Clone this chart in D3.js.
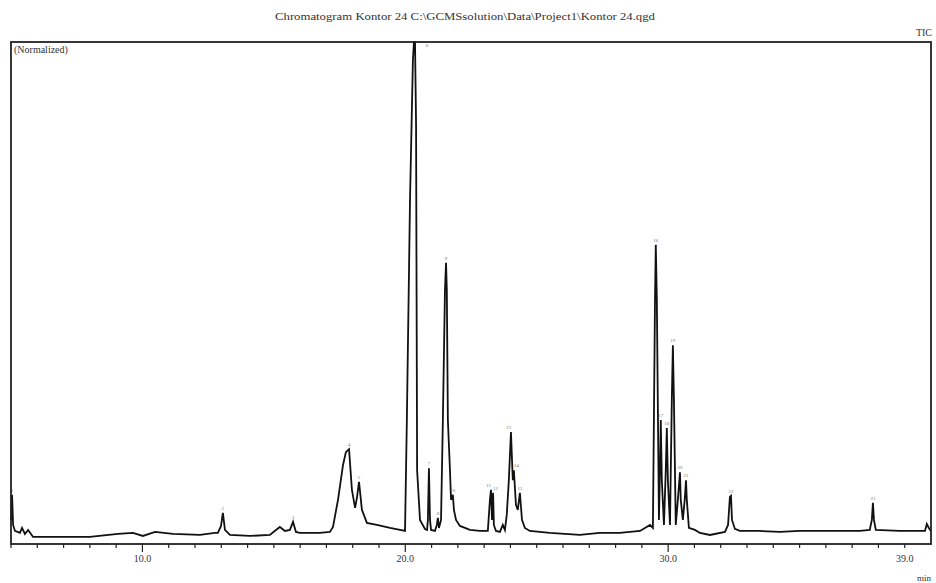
<!DOCTYPE html>
<html>
<head>
<meta charset="utf-8">
<script src="https://cdn.jsdelivr.net/npm/d3@7"></script>
<style>
    body { margin:0; background:#fff; }
    svg text { font-family:"Liberation Serif", "DejaVu Serif", serif; }
</style>
</head>
<body>
<svg id="chart" width="936" height="583"></svg>
<script>
// retention time (min) and normalized intensity
const retentionTimes = [
    5.00, 5.04, 5.08, 5.15, 5.34, 5.42, 5.53, 5.65, 5.76, 5.84,
    6.86, 8.00, 9.07, 9.64, 10.02, 10.48, 11.16, 12.19, 12.76, 12.87,
    12.99, 13.06, 13.14, 13.33, 14.09, 14.85, 15.08, 15.23, 15.42, 15.61,
    15.73, 15.84, 15.99, 16.75, 17.13, 17.25, 17.44, 17.63, 17.74, 17.86,
    17.97, 18.09, 18.16, 18.24, 18.35, 18.54, 18.92, 19.42, 19.80, 19.99,
    20.06, 20.18, 20.29, 20.33, 20.37, 20.41, 20.45, 20.56, 20.75, 20.83,
    20.86, 20.90, 20.94, 20.98, 21.13, 21.20, 21.24, 21.28, 21.36, 21.43,
    21.51, 21.55, 21.58, 21.62, 21.70, 21.74, 21.81, 21.85, 21.93, 22.08,
    22.46, 22.84, 23.14, 23.22, 23.26, 23.30, 23.34, 23.37, 23.45, 23.60,
    23.71, 23.79, 23.86, 23.94, 24.02, 24.09, 24.13, 24.21, 24.28, 24.36,
    24.44, 24.55, 24.74, 25.50, 26.64, 27.40, 28.16, 28.93, 29.31, 29.42,
    29.50, 29.53, 29.57, 29.65, 29.69, 29.72, 29.76, 29.84, 29.91, 29.95,
    29.99, 30.07, 30.14, 30.18, 30.22, 30.29, 30.37, 30.45, 30.48, 30.56,
    30.63, 30.68, 30.71, 30.79, 31.02, 31.21, 31.59, 32.16, 32.28, 32.35,
    32.39, 32.43, 32.54, 32.73, 33.49, 34.25, 35.01, 36.15, 37.29, 37.67,
    37.75, 37.79, 37.83, 37.90, 38.81, 39.77, 39.84, 39.92, 40.00
];
const intensities = [
    4.8, 9.8, 3.8, 2.6, 2.2, 3.2, 2.0, 2.8, 2.0, 1.4,
    1.4, 1.4, 2.0, 2.2, 1.6, 2.4, 2.0, 1.8, 2.2, 2.2,
    3.6, 6.2, 2.8, 1.8, 1.6, 1.8, 2.8, 3.4, 2.6, 2.8,
    4.4, 2.4, 2.2, 2.2, 2.4, 3.4, 8.8, 15.7, 18.3, 18.9,
    10.8, 7.2, 9.2, 12.4, 6.8, 4.2, 3.8, 3.2, 2.8, 2.6,
    24.7, 68.5, 96.4, 100, 100, 83.5, 14.7, 4.8, 3.0, 2.8,
    4.8, 15.1, 4.8, 2.8, 2.6, 3.8, 5.2, 3.2, 4.8, 24.7,
    50.6, 56.0, 50.6, 24.7, 14.7, 8.8, 9.8, 6.8, 4.8, 3.6,
    2.8, 2.6, 2.6, 8.8, 10.8, 4.8, 10.2, 3.8, 2.6, 2.4,
    3.8, 2.8, 5.8, 12.7, 22.3, 12.7, 14.7, 7.8, 6.8, 10.2,
    4.8, 3.2, 2.6, 2.2, 1.8, 2.2, 2.2, 2.6, 3.8, 3.2,
    48.6, 59.6, 48.6, 4.8, 14.7, 24.7, 12.7, 3.8, 14.7, 23.1,
    12.7, 3.8, 28.7, 39.6, 28.7, 3.8, 8.8, 14.3, 8.8, 4.8,
    8.8, 12.7, 8.8, 3.2, 2.8, 2.2, 1.8, 2.4, 3.8, 9.4,
    9.6, 4.8, 3.0, 2.6, 2.6, 2.4, 2.6, 2.6, 2.6, 2.8,
    4.8, 8.2, 4.8, 2.8, 2.6, 2.6, 4.0, 3.2, 2.6
];

// labelled peaks
const peakNumbers = [1, 2, 3, 4, 5, 6, 7, 8, 9, 10, 11, 12, 13, 14, 15, 16, 17, 18, 19, 20, 21, 22, 23];
const peakTimes = [5.04, 13.06, 15.73, 17.86, 18.24, 20.33, 20.90, 21.24, 21.55, 21.81, 23.26, 23.34,
                   24.02, 24.13, 24.36, 29.53, 29.72, 29.95, 30.18, 30.45, 30.68, 32.39, 37.79];
const peakHeights = [9.8, 6.2, 4.4, 18.9, 12.4, 100, 15.1, 5.2, 56.0, 9.8, 10.8, 10.2,
                     22.3, 14.7, 10.2, 59.6, 24.7, 23.1, 39.6, 14.3, 12.7, 9.6, 8.2];

// axis
const minorTicks = d3.range(5, 40, 1);
const majorTicks = [10, 20, 30, 39];
const tickLabels = ["10.0", "20.0", "30.0", "39.0"];

const titleText = "Chromatogram Kontor 24 C:\\GCMSsolution\\Data\\Project1\\Kontor 24.qgd";

const COLOURS = { INK:"#111", FRAME:"#222", TEXT:"#333", LABEL:"#777" };

const width = 936;
const height = 583;
const margin = { left:11, right:5, top:42, bottom:39 };
const contentsWidth = width - margin.left - margin.right;
const contentsHeight = height - margin.top - margin.bottom;

const x = d3.scaleLinear().domain([5, 40]).range([0, contentsWidth]);
const y = d3.scaleLinear().domain([0, 100]).range([contentsHeight, 0]);

const svg = d3.select("#chart");

//title
svg.append("text")
    .attr("x", 465)
    .attr("y", 20)
    .attr("text-anchor", "middle")
    .attr("font-size", 11)
    .attr("fill", COLOURS.TEXT)
    .attr("textLength", 380)
    .attr("lengthAdjust", "spacingAndGlyphs")
    .text(titleText);

svg.append("text")
    .attr("x", 932)
    .attr("y", 36)
    .attr("text-anchor", "end")
    .attr("font-size", 10)
    .attr("fill", COLOURS.TEXT)
    .text("TIC");

const contentsG = svg.append("g")
    .attr("transform", `translate(${margin.left}, ${margin.top})`);

contentsG.append("text")
    .attr("x", 3)
    .attr("y", 11)
    .attr("font-size", 10)
    .attr("fill", COLOURS.TEXT)
    .text("(Normalized)");

//trace
const line = d3.line()
    .x((d, i) => x(retentionTimes[i]))
    .y(d => y(d));

contentsG.append("path")
    .datum(intensities)
    .attr("fill", "none")
    .attr("stroke", COLOURS.INK)
    .attr("stroke-width", 1.8)
    .attr("stroke-linejoin", "miter")
    .attr("d", line);

//peak labels - push apart labels of peaks that sit right next to each other
const labelAnchor = (i) => {
    if (i > 0 && peakTimes[i] - peakTimes[i - 1] < 0.12) return "start";
    if (i < peakTimes.length - 1 && peakTimes[i + 1] - peakTimes[i] < 0.12) return "end";
    return "middle";
};

contentsG.selectAll("text.peak-label")
    .data(peakNumbers)
    .enter()
    .append("text")
        .attr("class", "peak-label")
        .attr("x", (d, i) => peakHeights[i] >= 100 ? x(peakTimes[i]) + 13 : x(peakTimes[i]))
        .attr("y", (d, i) => peakHeights[i] >= 100 ? y(peakHeights[i]) + 5 : y(peakHeights[i]) - 3)
        .attr("text-anchor", (d, i) => labelAnchor(i))
        .attr("font-size", 5)
        .attr("fill", COLOURS.LABEL)
        .text(d => d);

//frame
contentsG.append("rect")
    .attr("width", contentsWidth)
    .attr("height", contentsHeight)
    .attr("fill", "none")
    .attr("stroke", COLOURS.FRAME)
    .attr("stroke-width", 1.8);

//x axis ticks
const axisG = contentsG.append("g")
    .attr("transform", `translate(0, ${contentsHeight})`);

axisG.selectAll("line.minor")
    .data(minorTicks)
    .enter()
    .append("line")
        .attr("class", "minor")
        .attr("x1", d => x(d))
        .attr("x2", d => x(d))
        .attr("y1", 0)
        .attr("y2", d => (d % 10 === 0 ? 8 : 4))
        .attr("stroke", COLOURS.FRAME)
        .attr("stroke-width", 1.2);

axisG.selectAll("text.tick-label")
    .data(majorTicks)
    .enter()
    .append("text")
        .attr("class", "tick-label")
        .attr("x", d => x(d))
        .attr("y", 18)
        .attr("text-anchor", "middle")
        .attr("font-size", 10)
        .attr("fill", COLOURS.TEXT)
        .text((d, i) => tickLabels[i]);

svg.append("text")
    .attr("x", 931)
    .attr("y", 581)
    .attr("text-anchor", "end")
    .attr("font-size", 9)
    .attr("fill", COLOURS.TEXT)
    .text("min");
</script>
</body>
</html>
